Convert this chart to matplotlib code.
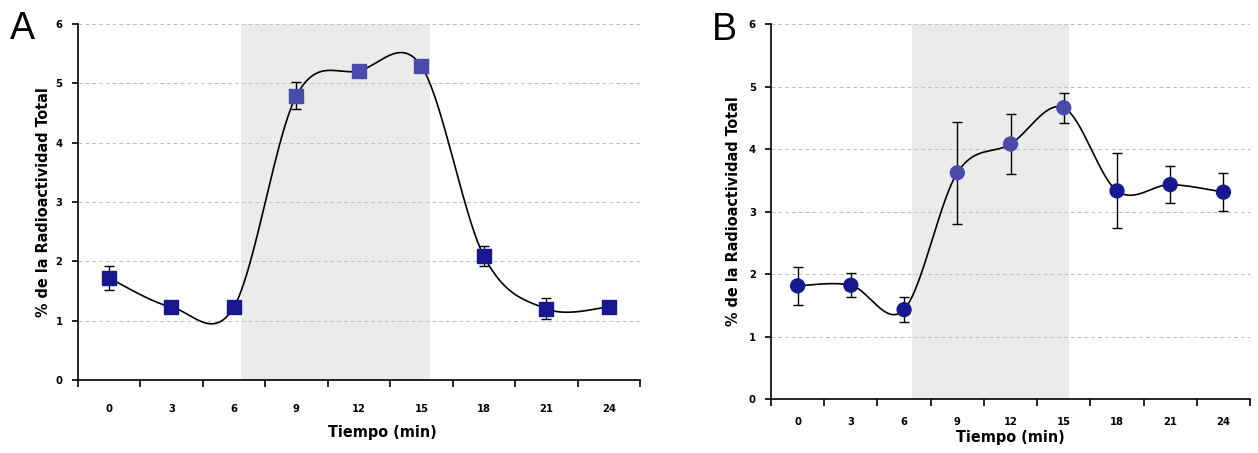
import numpy as np
import matplotlib
matplotlib.use("Agg")
import matplotlib.pyplot as plt
import matplotlib.ticker as ticker
from matplotlib import font_manager

tiempo = [0, 3, 6, 9, 12, 15, 18, 21, 24]
tick_labels = ["0", "3", "6", "9", "12", "15", "18", "21", "24"]

a_valores = [1.72, 1.23, 1.23, 4.79, 5.21, 5.29, 2.09, 1.20, 1.23]
a_error = [0.20, 0.0, 0.0, 0.23, 0.0, 0.0, 0.17, 0.18, 0.0]

b_valores = [1.81, 1.82, 1.43, 3.62, 4.08, 4.66, 3.33, 3.43, 3.31]
b_error = [0.30, 0.19, 0.20, 0.82, 0.48, 0.24, 0.60, 0.30, 0.30]

# points inside the shaded stimulus window get the lighter colour
en_estimulo = [False, False, False, True, True, True, False, False, False]
a_sombra = (6.35, 15.4)
b_sombra = (6.42, 15.28)

oscuro = "#17178f"
claro = "#4a4aaa"

# narrow bold font if there is one, else squeeze DejaVu
nombres = {f.name for f in font_manager.fontManager.ttflist}
archivos = [f.fname for f in font_manager.fontManager.ttflist]
if "Liberation Sans Narrow" in nombres:
    plt.rcParams["font.family"] = ["Liberation Sans Narrow", "DejaVu Sans"]
    estirar = "normal"
    t_label = 12.5
elif any("Condensed" in a for a in archivos):
    plt.rcParams["font.family"] = ["DejaVu Sans"]
    estirar = "condensed"
    t_label = 11.5
else:
    plt.rcParams["font.family"] = ["DejaVu Sans"]
    estirar = "normal"
    t_label = 10.7
plt.rcParams["font.stretch"] = estirar


def suavizar(x, y, n=40):
    # excel-like smoothed line: cubic bezier with neighbour-based control points
    x = np.asarray(x, float)
    y = np.asarray(y, float)
    xs, ys = [], []
    for i in range(len(x) - 1):
        x0, y0 = x[max(i - 1, 0)], y[max(i - 1, 0)]
        x3, y3 = x[min(i + 2, len(x) - 1)], y[min(i + 2, len(x) - 1)]
        c1x = x[i] + (x[i + 1] - x0) / 6
        c1y = y[i] + (y[i + 1] - y0) / 6
        c2x = x[i + 1] - (x3 - x[i]) / 6
        c2y = y[i + 1] - (y3 - y[i]) / 6
        t = np.linspace(0, 1, n)
        b0, b1, b2, b3 = (1 - t) ** 3, 3 * (1 - t) ** 2 * t, 3 * (1 - t) * t ** 2, t ** 3
        xs.append(b0 * x[i] + b1 * c1x + b2 * c2x + b3 * x[i + 1])
        ys.append(b0 * y[i] + b1 * c1y + b2 * c2y + b3 * y[i + 1])
    return np.concatenate(xs), np.concatenate(ys)


def panel(ax, valores, error, sombra, marcador, ms):
    ax.axvspan(sombra[0], sombra[1], color="#ebebeb", lw=0, zorder=0)
    for y in range(1, 7):
        ax.axhline(y, color="#c0c0c0", lw=0.7, ls=(0, (4, 3)), zorder=1)

    sx, sy = suavizar(tiempo, valores)
    ax.plot(sx, sy, color="black", lw=1.2, zorder=2)
    ax.errorbar(tiempo, valores, yerr=error, fmt="none", ecolor="black",
                elinewidth=1.0, capsize=3.5, capthick=1.0, zorder=3)
    colores = [claro if e else oscuro for e in en_estimulo]
    ax.scatter(tiempo, valores, marker=marcador, s=ms ** 2, c=colores,
               edgecolors=colores, zorder=4)

    ax.set_xlim(-1.5, 25.5)
    ax.set_ylim(0, 6)
    ax.spines["top"].set_visible(False)
    ax.spines["right"].set_visible(False)
    ax.spines["left"].set_linewidth(1.2)
    ax.spines["bottom"].set_linewidth(1.2)

    ax.xaxis.set_major_locator(ticker.FixedLocator(np.arange(-1.5, 26, 3)))
    ax.xaxis.set_major_formatter(ticker.NullFormatter())
    ax.xaxis.set_minor_locator(ticker.FixedLocator(tiempo))
    ax.xaxis.set_minor_formatter(ticker.FixedFormatter(tick_labels))
    ax.tick_params(axis="x", which="major", direction="out", length=5, width=1.2)
    ax.tick_params(axis="x", which="minor", length=0, labelsize=8)
    ax.set_yticks(range(0, 7))
    ax.tick_params(axis="y", direction="out", length=4, width=1.2, labelsize=8, pad=7)
    for lab in ax.get_xticklabels(minor=True) + ax.get_yticklabels():
        lab.set_fontweight("bold")

    ax.set_xlabel("Tiempo (min)", fontsize=t_label, fontweight="bold")
    ax.set_ylabel("% de la Radioactividad Total", fontsize=t_label, fontweight="bold")


fig = plt.figure(figsize=(12.58, 4.53), dpi=100)
ax_a = fig.add_axes([0.0617, 0.1611, 0.4471, 0.7859])
ax_b = fig.add_axes([0.6129, 0.1192, 0.3808, 0.8278])

panel(ax_a, a_valores, a_error, a_sombra, "s", 10)
panel(ax_b, b_valores, b_error, b_sombra, "o", 10)

ax_a.tick_params(axis="x", which="minor", pad=17)
ax_b.tick_params(axis="x", which="minor", pad=13)
ax_a.xaxis.set_label_coords(0.541, -0.125)
ax_b.xaxis.set_label_coords(0.5, -0.083)
ax_a.yaxis.set_label_coords(-0.047, 0.5)
ax_b.yaxis.set_label_coords(-0.062, 0.5)

fig.text(0.008, 0.914, "A", fontsize=27, family="Liberation Sans", stretch="normal")
fig.text(0.5657, 0.912, "B", fontsize=27, family="Liberation Sans", stretch="normal")

fig.savefig("out.png", dpi=100)
